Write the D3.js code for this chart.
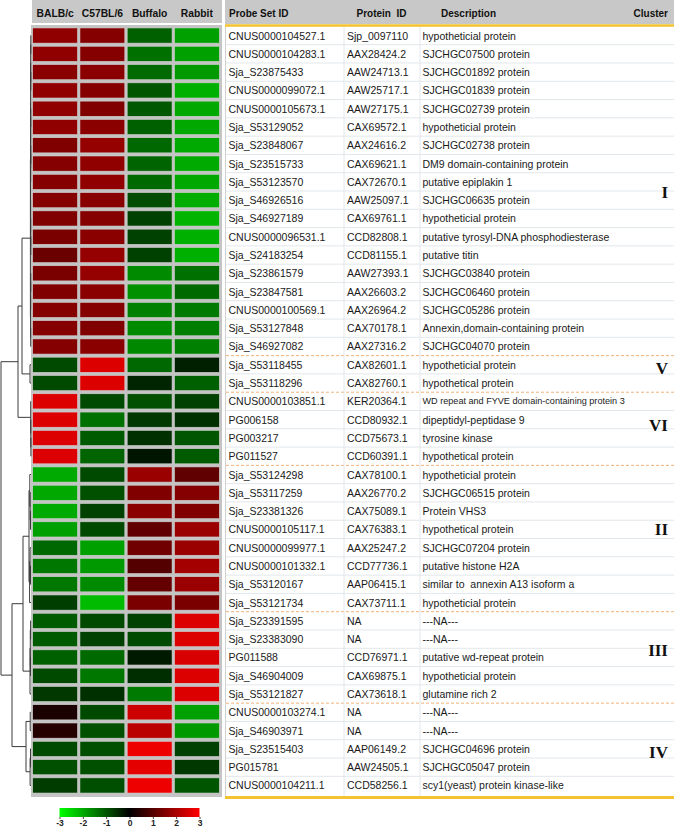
<!DOCTYPE html>
<html><head><meta charset="utf-8">
<script src="https://cdn.jsdelivr.net/npm/d3@7"></script>
<style>body{margin:0;background:#fff} svg{display:block}</style>
</head><body><svg id="c" width="674" height="829"></svg>
<script>
const strains = ["BALB/c","C57BL/6","Buffalo","Rabbit"];
const probeIds = ["CNUS0000104527.1","CNUS0000104283.1","Sja_S23875433","CNUS0000099072.1","CNUS0000105673.1","Sja_S53129052","Sja_S23848067","Sja_S23515733","Sja_S53123570","Sja_S46926516","Sja_S46927189","CNUS0000096531.1","Sja_S24183254","Sja_S23861579","Sja_S23847581","CNUS0000100569.1","Sja_S53127848","Sja_S46927082","Sja_S53118455","Sja_S53118296","CNUS0000103851.1","PG006158","PG003217","PG011527","Sja_S53124298","Sja_S53117259","Sja_S23381326","CNUS0000105117.1","CNUS0000099977.1","CNUS0000101332.1","Sja_S53120167","Sja_S53121734","Sja_S23391595","Sja_S23383090","PG011588","Sja_S46904009","Sja_S53121827","CNUS0000103274.1","Sja_S46903971","Sja_S23515403","PG015781","CNUS0000104211.1"];
const proteinIds = ["Sjp_0097110","AAX28424.2","AAW24713.1","AAW25717.1","AAW27175.1","CAX69572.1","AAX24616.2","CAX69621.1","CAX72670.1","AAW25097.1","CAX69761.1","CCD82808.1","CCD81155.1","AAW27393.1","AAX26603.2","AAX26964.2","CAX70178.1","AAX27316.2","CAX82601.1","CAX82760.1","KER20364.1","CCD80932.1","CCD75673.1","CCD60391.1","CAX78100.1","AAX26770.2","CAX75089.1","CAX76383.1","AAX25247.2","CCD77736.1","AAP06415.1","CAX73711.1","NA","NA","CCD76971.1","CAX69875.1","CAX73618.1","NA","NA","AAP06149.2","AAW24505.1","CCD58256.1"];
const descriptions = ["hypotheticial protein","SJCHGC07500 protein","SJCHGC01892 protein","SJCHGC01839 protein","SJCHGC02739 protein","hypotheticial protein","SJCHGC02738 protein","DM9 domain-containing protein","putative epiplakin 1","SJCHGC06635 protein","hypotheticial protein","putative tyrosyl-DNA phosphodiesterase","putative titin","SJCHGC03840 protein","SJCHGC06460 protein","SJCHGC05286 protein","Annexin,domain-containing protein","SJCHGC04070 protein","hypotheticial protein","hypothetical protein","WD repeat and FYVE domain-containing protein 3","dipeptidyl-peptidase 9","tyrosine kinase","hypothetical protein","hypotheticial protein","SJCHGC06515 protein","Protein VHS3","hypothetical protein","SJCHGC07204 protein","putative histone H2A","similar to  annexin A13 isoform a","hypotheticial protein","---NA---","---NA---","putative wd-repeat protein","hypotheticial protein","glutamine rich 2","---NA---","---NA---","SJCHGC04696 protein","SJCHGC05047 protein","scy1(yeast) protein kinase-like"];
const balbc   = [1.69,1.69,1.60,1.69,1.69,1.69,1.51,1.56,1.56,1.56,1.51,1.44,1.25,1.44,1.51,1.56,1.56,1.56,-0.87,-0.87,2.60,2.60,2.60,2.60,-2.00,-1.98,-2.00,-1.88,-1.22,-1.41,-1.41,-0.73,-1.06,-1.06,-1.13,-0.87,-0.66,0.31,0.44,-0.87,-0.94,-0.71];
const c57bl6  = [1.56,1.56,1.62,1.56,1.51,1.62,1.75,1.69,1.69,1.60,1.56,1.62,1.75,1.75,1.62,1.56,1.51,1.62,2.60,2.60,-0.87,-1.32,-1.06,-1.19,-0.87,-0.94,-0.75,-0.87,-1.88,-1.81,-1.62,-2.20,-0.87,-0.75,-1.25,-1.41,-0.56,-0.87,-0.94,-0.92,-0.94,-0.92];
const buffalo = [-1.13,-1.32,-1.25,-1.00,-1.04,-1.13,-1.22,-1.19,-1.25,-0.90,-0.75,-0.75,-0.75,-1.62,-1.69,-1.51,-1.62,-1.60,-1.22,-0.44,-0.94,-0.66,-0.56,-0.25,1.81,1.51,1.62,1.13,1.32,1.00,1.19,1.44,-0.75,-0.87,-0.31,-0.54,-1.44,2.40,2.20,2.80,2.69,2.80];
const rabbit  = [-1.88,-1.88,-1.81,-2.07,-1.98,-1.98,-2.00,-2.00,-1.98,-2.03,-2.12,-2.07,-2.07,-1.32,-1.25,-1.44,-1.48,-1.51,-0.38,-1.13,-0.75,-0.56,-1.00,-1.06,1.13,1.56,1.51,1.81,1.81,1.94,1.81,1.44,2.60,2.60,2.54,2.60,2.60,-1.88,-1.81,-0.75,-0.66,-1.00];
const clusterNames = ["I","V","VI","II","III","IV"];
const clusterSizes = [18,2,4,8,5,5];
const clusterLabelRow = [8.6,18.2,21.3,27.0,33.6,39.2];
const legendTicks = [-3,-2,-1,0,1,2,3];
const tableHeaders = ["Probe Set ID","Protein  ID","Description","Cluster"];
// dendrogram: [height, left, right], leaves are row indices
const treeI = [0.6,
  [0.5, [0.4, [0.3,[0.2,0,1],[0.2,2,3]], [0.35,[0.25,4,5],[0.3,[0.2,6,7],8]]], [0.4, 9, [0.3, 10, [0.2, 11, 12]]]],
  [0.45, [0.35, [0.25,13,14], 15], [0.3,16,17]]];
const treeV = [1.0, 18, 19];
const treeVI = [0.3, 20, [0.2, 21, [0.1, 22, 23]]];
const treeII = [2.0, [1.2, 24, [0.8, 25, [0.5, 26, 27]]], [1.4, [0.9, 28, [0.5, 29, 30]], 31]];
const treeIII = [1.0, [0.7, [0.4, 32, 33], [0.5, 34, 35]], 36];
const treeIV = [5.0, [0.8, 37, 38], [0.9, [0.5, 39, 40], 41]];
const tree = [30, [13, [9, treeI, treeV], treeVI], [19, [8, treeII, treeIII], treeIV]];

const svg = d3.select("#c");
const n = probeIds.length;
const y = d3.scaleBand().domain(d3.range(n)).range([26.4, 794.6]).paddingInner(0.17).paddingOuter(0.085);
const x = d3.scaleBand().domain(strains).range([31.5, 220.5]).paddingInner(0.05).paddingOuter(0.025);
const color = d3.scaleLinear().domain([-3,0,3]).range(["#00ff00","#000000","#ff0000"]).clamp(true);
const series = [balbc, c57bl6, buffalo, rabbit];
const cy = i => y(i) + y.bandwidth()/2;
const step = y.step();
const FONT = "Arial, 'Liberation Sans', sans-serif";

// heatmap header
svg.append("rect").attr("x",32).attr("y",0).attr("width",190).attr("height",23).attr("fill","#c8c8c8");
svg.selectAll(".hh").data(strains).enter().append("text")
  .attr("x", d => x(d) + x.bandwidth()/2).attr("y", 13)
  .attr("text-anchor","middle").attr("dominant-baseline","central")
  .attr("font-family", FONT).attr("font-weight","bold").attr("font-size", 10.3).attr("fill","#111")
  .text(d => d);

// heatmap frame + cells
svg.append("rect").attr("x",31).attr("y",25).attr("width",191).attr("height",772).attr("fill","#c4c4c4");
const cells = [];
series.forEach((s, j) => s.forEach((v, i) => cells.push({i, j, v})));
svg.selectAll(".cell").data(cells).enter().append("rect")
  .attr("x", d => x(strains[d.j])).attr("y", d => y(d.i))
  .attr("width", x.bandwidth()).attr("height", y.bandwidth())
  .attr("fill", d => color(d.v)).attr("stroke","#d2d2d2").attr("stroke-width",0.6);

// dendrogram
const hx = d3.scaleLinear().domain([0, 30]).range([31, 1]);
const dg = svg.append("g").attr("stroke","#3a3a3a").attr("stroke-width",1).attr("fill","none");
function layout(node) {
  if (typeof node === "number") return {y: cy(node), h: 0};
  const [h, l, r] = node;
  const a = layout(l), b = layout(r);
  const X = hx(h);
  dg.append("line").attr("x1",X).attr("x2",X).attr("y1",a.y).attr("y2",b.y);
  dg.append("line").attr("x1",X).attr("x2",hx(a.h)).attr("y1",a.y).attr("y2",a.y);
  dg.append("line").attr("x1",X).attr("x2",hx(b.h)).attr("y1",b.y).attr("y2",b.y);
  return {y: (a.y + b.y)/2, h};
}
layout(tree);

// table header
const tx = [229, 356.5, 441];
svg.append("rect").attr("x",225).attr("y",0).attr("width",449).attr("height",24).attr("fill","#c8c8c8");
svg.selectAll(".th").data(tableHeaders).enter().append("text")
  .attr("x", (d,i) => i < 3 ? tx[i] : 668).attr("y", 13)
  .attr("text-anchor", (d,i) => i < 3 ? "start" : "end").attr("dominant-baseline","central")
  .attr("font-family", FONT).attr("font-weight","bold").attr("font-size", 10).attr("fill","#111")
  .style("white-space","pre").text(d => d);
svg.append("line").attr("x1",225).attr("x2",674).attr("y1",25.6).attr("y2",25.6).attr("stroke","#f2c230").attr("stroke-width",2.5);

// cluster boundaries
const bounds = d3.cumsum(clusterSizes);
const boundSet = new Set(Array.from(bounds).slice(0, -1).map(b => b - 1));
const lineG = svg.append("g");
d3.range(n - 1).forEach(i => {
  const yy = cy(i) + step/2;
  if (boundSet.has(i)) {
    lineG.append("line").attr("x1",226).attr("x2",674).attr("y1",yy).attr("y2",yy)
      .attr("stroke","#f0b27a").attr("stroke-width",1).attr("stroke-dasharray","3,2");
  } else {
    lineG.append("line").attr("x1",226).attr("x2",674).attr("y1",yy).attr("y2",yy)
      .attr("stroke","#e2e7eb").attr("stroke-width",1);
  }
});
[344, 420].forEach(xx => lineG.append("line").attr("x1",xx).attr("x2",xx).attr("y1",27).attr("y2",796)
  .attr("stroke","#e2e7eb").attr("stroke-width",1));
lineG.append("line").attr("x1",225.5).attr("x2",225.5).attr("y1",27).attr("y2",797).attr("stroke","#d0d0d0").attr("stroke-width",1);
svg.append("line").attr("x1",225).attr("x2",674).attr("y1",797.5).attr("y2",797.5).attr("stroke","#f2c230").attr("stroke-width",3);

// table rows
const rowsG = svg.append("g").attr("font-family", FONT).attr("fill","#1a1a1a");
const cols = [probeIds, proteinIds, descriptions];
cols.forEach((col, c) => {
  rowsG.selectAll(".c"+c).data(col).enter().append("text")
    .attr("x", [228.5, 347, 422.5][c]).attr("y", (d,i) => cy(i))
    .attr("dominant-baseline","central")
    .attr("font-size", d => d.length > 42 ? 9.1 : 10.5)
    .style("white-space","pre").text(d => d);
});

// cluster labels
svg.selectAll(".cl").data(clusterNames).enter().append("text")
  .attr("x", 668).attr("y", (d,i) => cy(0) + clusterLabelRow[i]*step)
  .attr("text-anchor","end").attr("dominant-baseline","central")
  .attr("font-family","'Times New Roman','Liberation Serif',serif").attr("font-weight","bold").attr("font-size",17)
  .attr("fill","#111").text(d => d);

// legend
const lx = d3.scaleLinear().domain([-3,3]).range([59.5,199.5]);
const grad = svg.append("defs").append("linearGradient").attr("id","lg");
legendTicks.forEach(t => grad.append("stop").attr("offset", (t+3)/6).attr("stop-color", color(t)));
svg.append("rect").attr("x",lx(-3)).attr("y",808).attr("width",lx(3)-lx(-3)).attr("height",9).attr("fill","url(#lg)");
const ax = svg.append("g").attr("transform","translate(0,817)")
  .call(d3.axisBottom(lx).tickValues(legendTicks).tickSize(2).tickPadding(1).tickFormat(d => String(d)));
ax.select(".domain").remove();
ax.selectAll("text").attr("font-family", FONT).attr("font-size", 8.5).attr("font-weight","bold").attr("fill","#222");
ax.selectAll("line").attr("stroke","#444");
</script></body></html>
